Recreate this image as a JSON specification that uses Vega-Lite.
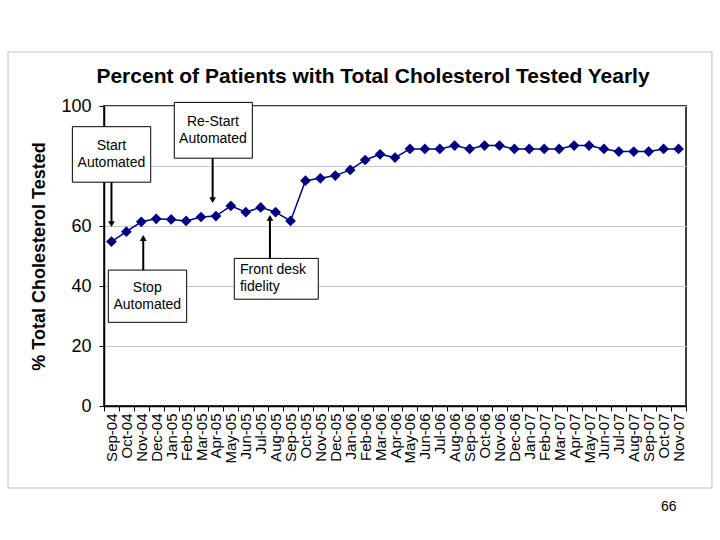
{
  "$schema": "https://vega.github.io/schema/vega-lite/v6.json",
  "autosize": {"type": "none"},
  "width": 582,
  "height": 300,
  "padding": {"left": 104, "top": 106, "right": 34, "bottom": 134},
  "background": "white",
  "config": {
    "font": "Liberation Sans",
    "view": {"stroke": "#404040", "strokeWidth": 2},
    "axis": {"labelColor": "black", "titleColor": "black", "tickColor": "black", "domainColor": "black"}
  },
  "title": {
    "text": "Percent of Patients with Total Cholesterol Tested Yearly",
    "font": "Liberation Sans",
    "fontSize": 21,
    "fontWeight": "bold",
    "color": "black",
    "anchor": "middle",
    "frame": "group",
    "dx": -22,
    "dy": 53,
    "offset": 18
  },
  "datasets": {
    "series": [
      {"i": 0, "month": "Sep-04", "pct": 54.8},
      {"i": 1, "month": "Oct-04", "pct": 58.1},
      {"i": 2, "month": "Nov-04", "pct": 61.4},
      {"i": 3, "month": "Dec-04", "pct": 62.4},
      {"i": 4, "month": "Jan-05", "pct": 62.2},
      {"i": 5, "month": "Feb-05", "pct": 61.7},
      {"i": 6, "month": "Mar-05", "pct": 63.0},
      {"i": 7, "month": "Apr-05", "pct": 63.3},
      {"i": 8, "month": "May-05", "pct": 66.7},
      {"i": 9, "month": "Jun-05", "pct": 64.6},
      {"i": 10, "month": "Jul-05", "pct": 66.2},
      {"i": 11, "month": "Aug-05", "pct": 64.6},
      {"i": 12, "month": "Sep-05", "pct": 61.7},
      {"i": 13, "month": "Oct-05", "pct": 75.1},
      {"i": 14, "month": "Nov-05", "pct": 75.9},
      {"i": 15, "month": "Dec-05", "pct": 76.8},
      {"i": 16, "month": "Jan-06", "pct": 78.7},
      {"i": 17, "month": "Feb-06", "pct": 82.0},
      {"i": 18, "month": "Mar-06", "pct": 83.9},
      {"i": 19, "month": "Apr-06", "pct": 82.8},
      {"i": 20, "month": "May-06", "pct": 85.7},
      {"i": 21, "month": "Jun-06", "pct": 85.7},
      {"i": 22, "month": "Jul-06", "pct": 85.7},
      {"i": 23, "month": "Aug-06", "pct": 86.8},
      {"i": 24, "month": "Sep-06", "pct": 85.7},
      {"i": 25, "month": "Oct-06", "pct": 86.8},
      {"i": 26, "month": "Nov-06", "pct": 86.8},
      {"i": 27, "month": "Dec-06", "pct": 85.7},
      {"i": 28, "month": "Jan-07", "pct": 85.7},
      {"i": 29, "month": "Feb-07", "pct": 85.7},
      {"i": 30, "month": "Mar-07", "pct": 85.7},
      {"i": 31, "month": "Apr-07", "pct": 86.8},
      {"i": 32, "month": "May-07", "pct": 86.8},
      {"i": 33, "month": "Jun-07", "pct": 85.7},
      {"i": 34, "month": "Jul-07", "pct": 84.8},
      {"i": 35, "month": "Aug-07", "pct": 84.8},
      {"i": 36, "month": "Sep-07", "pct": 84.8},
      {"i": 37, "month": "Oct-07", "pct": 85.7},
      {"i": 38, "month": "Nov-07", "pct": 85.7}
    ],
    "notes": [
      {"note": ["Start", "Automated"], "x0": -2.62, "x1": 2.63, "top": 93.1, "bottom": 74.6, "mid": 83.85, "tx": 0.0, "ax": 0.0, "a0": 74.6, "a1": 60.6, "dir": "down", "anchor": "center"},
      {"note": ["Re-Start", "Automated"], "x0": 4.21, "x1": 9.44, "top": 101.2, "bottom": 82.6, "mid": 91.9, "tx": 6.8, "ax": 6.78, "a0": 82.6, "a1": 68.6, "dir": "down", "anchor": "center"},
      {"note": ["Stop", "Automated"], "x0": -0.21, "x1": 5.04, "top": 45.3, "bottom": 27.9, "mid": 36.6, "tx": 2.4, "ax": 2.13, "a0": 45.3, "a1": 56.0, "dir": "up", "anchor": "center"},
      {"note": ["Front desk", "fidelity"], "x0": 8.23, "x1": 13.86, "top": 49.2, "bottom": 35.6, "mid": 42.4, "tx": 8.61, "ax": 10.62, "a0": 49.2, "a1": 62.7, "dir": "up", "anchor": "left"}
    ]
  },
  "resolve": {"axis": {"x": "independent", "y": "independent"}},
  "layer": [
    {
      "data": {"name": "series"},
      "mark": {"type": "line", "color": "#000080", "strokeWidth": 1.5},
      "encoding": {
        "x": {
          "field": "i", "type": "quantitative",
          "scale": {"domain": [-0.5, 38.5], "nice": false, "zero": false},
          "axis": {
            "orient": "bottom",
            "values": [0,1,2,3,4,5,6,7,8,9,10,11,12,13,14,15,16,17,18,19,20,21,22,23,24,25,26,27,28,29,30,31,32,33,34,35,36,37,38],
            "labelExpr": "['Sep-04','Oct-04','Nov-04','Dec-04','Jan-05','Feb-05','Mar-05','Apr-05','May-05','Jun-05','Jul-05','Aug-05','Sep-05','Oct-05','Nov-05','Dec-05','Jan-06','Feb-06','Mar-06','Apr-06','May-06','Jun-06','Jul-06','Aug-06','Sep-06','Oct-06','Nov-06','Dec-06','Jan-07','Feb-07','Mar-07','Apr-07','May-07','Jun-07','Jul-07','Aug-07','Sep-07','Oct-07','Nov-07'][datum.value]",
            "labelAngle": 270,
            "labelAlign": "right",
            "labelBaseline": "middle",
            "labelFontSize": 15,
            "labelPadding": 7,
            "labelOverlap": false,
            "labelBound": false,
            "labelFlush": false,
            "ticks": false,
            "domain": false,
            "grid": false,
            "title": null
          }
        },
        "y": {
          "field": "pct", "type": "quantitative",
          "scale": {"domain": [0, 100], "nice": false, "zero": true},
          "axis": {
            "orient": "left",
            "values": [0, 20, 40, 60, 80, 100],
            "labelFontSize": 18,
            "labelPadding": 8,
            "tickSize": 5,
            "domainWidth": 1.5,
            "grid": true,
            "gridColor": "#c8c8c8",
            "gridWidth": 1,
            "title": "% Total Cholesterol Tested",
            "titleFontSize": 18,
            "titleFontWeight": "bold",
            "titlePadding": 12
          }
        }
      }
    },
    {
      "data": {"name": "series"},
      "mark": {"type": "point", "shape": "diamond", "filled": true, "color": "#000080", "size": 115, "opacity": 1},
      "encoding": {
        "x": {
          "field": "i", "type": "quantitative",
          "axis": {
            "orient": "bottom",
            "values": [-0.5,0.5,1.5,2.5,3.5,4.5,5.5,6.5,7.5,8.5,9.5,10.5,11.5,12.5,13.5,14.5,15.5,16.5,17.5,18.5,19.5,20.5,21.5,22.5,23.5,24.5,25.5,26.5,27.5,28.5,29.5,30.5,31.5,32.5,33.5,34.5,35.5,36.5,37.5,38.5],
            "labels": false,
            "ticks": true,
            "tickSize": 5,
            "domain": true,
            "domainWidth": 1.5,
            "grid": false,
            "title": "66",
            "titleFontSize": 14,
            "titleFontWeight": "normal",
            "titleAlign": "right",
            "titleAnchor": "end",
            "titleX": 572,
            "titlePadding": 88
          }
        },
        "y": {"field": "pct", "type": "quantitative", "axis": null}
      }
    },
    {
      "data": {"values": [{"frame": 1}]},
      "mark": {"type": "rect", "fill": "white", "fillOpacity": 0, "stroke": "#bfbfbf", "strokeWidth": 1, "clip": false},
      "encoding": {
        "x": {"datum": -6.93, "type": "quantitative", "axis": null},
        "x2": {"datum": 40.24},
        "y": {"datum": 118, "type": "quantitative", "axis": null},
        "y2": {"datum": -27.33}
      }
    },
    {
      "data": {"name": "notes"},
      "mark": {"type": "rect", "fill": "white", "stroke": "black", "strokeWidth": 1, "clip": false},
      "encoding": {
        "x": {"field": "x0", "type": "quantitative", "axis": null},
        "x2": {"field": "x1"},
        "y": {"field": "top", "type": "quantitative", "axis": null},
        "y2": {"field": "bottom"}
      }
    },
    {
      "data": {"name": "notes"},
      "mark": {"type": "rule", "color": "black", "strokeWidth": 2, "clip": false},
      "encoding": {
        "x": {"field": "ax", "type": "quantitative", "axis": null},
        "y": {"field": "a0", "type": "quantitative", "axis": null},
        "y2": {"field": "a1"}
      }
    },
    {
      "data": {"name": "notes"},
      "mark": {"type": "point", "filled": true, "color": "black", "size": 45, "opacity": 1, "clip": false},
      "encoding": {
        "x": {"field": "ax", "type": "quantitative", "axis": null},
        "y": {"field": "a1", "type": "quantitative", "axis": null},
        "shape": {"field": "dir", "type": "nominal", "scale": {"domain": ["down", "up"], "range": ["triangle-down", "triangle-up"]}, "legend": null}
      }
    },
    {
      "data": {"name": "notes"},
      "transform": [{"filter": "datum.anchor == 'center'"}],
      "mark": {"type": "text", "align": "center", "baseline": "middle", "dy": -8.5, "fontSize": 14, "lineHeight": 17, "color": "black", "font": "Liberation Sans", "clip": false},
      "encoding": {
        "x": {"field": "tx", "type": "quantitative", "axis": null},
        "y": {"field": "mid", "type": "quantitative", "axis": null},
        "text": {"field": "note"}
      }
    },
    {
      "data": {"name": "notes"},
      "transform": [{"filter": "datum.anchor == 'left'"}],
      "mark": {"type": "text", "align": "left", "baseline": "middle", "dy": -8.5, "fontSize": 14, "lineHeight": 17, "color": "black", "font": "Liberation Sans", "clip": false},
      "encoding": {
        "x": {"field": "tx", "type": "quantitative", "axis": null},
        "y": {"field": "mid", "type": "quantitative", "axis": null},
        "text": {"field": "note"}
      }
    }
  ]
}
